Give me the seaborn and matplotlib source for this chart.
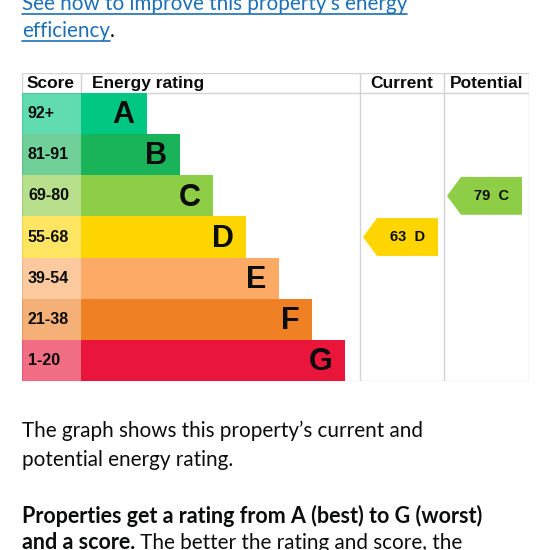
import pandas as pd
import matplotlib.pyplot as plt
import seaborn as sns
from matplotlib.patches import Polygon
from matplotlib.lines import Line2D

# EPC bands, top (best) to bottom (worst)
ratings = ["A", "B", "C", "D", "E", "F", "G"]
score_ranges = ["92+", "81-91", "69-80", "55-68", "39-54", "21-38", "1-20"]
bar_lengths = [2, 3, 4, 5, 6, 7, 8]
band_colors = ["#00c781", "#19b459", "#8dce46", "#ffd500", "#fcaa65", "#ef8023", "#e9153b"]
current_score, current_band = 63, "D"
potential_score, potential_band = 79, "C"

link_lines = ["See how to improve this property\u2019s energy", "efficiency"]
body_lines = ["The graph shows this property\u2019s current and", "potential energy rating."]
bold_line = "Properties get a rating from A (best) to G (worst)"
last_bold, last_rest = "and a score.", " The better the rating and score, the"

df = pd.DataFrame({"rating": ratings, "score": score_ranges,
                   "length": bar_lengths, "full": [1] * len(ratings)})

sns.set_style("white")
plt.rcParams["font.family"] = ["Liberation Sans", "DejaVu Sans"]

W = H = 550
fig = plt.figure(figsize=(5.5, 5.5), dpi=100)


def box(x0, y0, x1, y1):
    return [x0 / W, 1 - y1 / H, (x1 - x0) / W, (y1 - y0) / H]


INK = "#0b0c0c"
GRID = "#d3d3d3"

# table frame, header and dividers
frame = fig.add_axes(box(22, 73, 529, 381))
frame.set_xlim(22, 529)
frame.set_ylim(381, 73)
frame.axis("off")
for x0, y0, x1, y1 in [(22, 73, 529, 73), (22, 381, 529, 381), (22, 93, 529, 93),
                       (22, 73, 22, 381), (529, 73, 529, 381), (81, 73, 81, 93),
                       (360, 73, 360, 381), (444, 73, 444, 381)]:
    frame.plot([x0, x1], [y0, y1], color=GRID, lw=1, solid_capstyle="butt")
hdr = dict(fontsize=12.5, fontweight="bold", color=INK, va="center")
frame.text(27, 83.5, "Score", ha="left", **hdr)
frame.text(92, 83.5, "Energy rating", ha="left", **hdr)
frame.text(402, 83.5, "Current", ha="center", **hdr)
frame.text(487, 83.5, "Potential", ha="center", **hdr)

# score column (lighter tint of each band)
ax_s = fig.add_axes(box(22, 93, 81, 381))
sns.barplot(df, x="full", y="rating", hue="rating", palette=band_colors, alpha=0.62,
            saturation=1, width=1, dodge=False, legend=False, linewidth=0, ax=ax_s,
            orient="h")
ax_s.set_xlim(0, 1)
ax_s.set_ylim(6.5, -0.5)
ax_s.axis("off")
for i, s in enumerate(score_ranges):
    ax_s.text(0.1, i, s, ha="left", va="center", fontsize=11.5, fontweight="bold", color=INK)

# rating bars
ax_b = fig.add_axes(box(81, 93, 360, 381))
sns.barplot(df, x="length", y="rating", hue="rating", palette=band_colors, saturation=1,
            width=1, dodge=False, legend=False, linewidth=0, ax=ax_b, orient="h")
ax_b.set_xlim(0, 279 / 33)
ax_b.set_ylim(6.5, -0.5)
ax_b.axis("off")
for i, (r, n) in enumerate(zip(ratings, bar_lengths)):
    ax_b.text(n - 0.38, i + 0.04, r, ha="right", va="center", fontsize=22,
              fontweight="bold", color=INK)


# current / potential arrows
def arrow(ax, score, band):
    i = ratings.index(band)
    h = 0.46
    pts = [(3, i), (17, i - h), (78, i - h), (78, i + h), (17, i + h)]
    ax.add_patch(Polygon(pts, closed=True, facecolor=band_colors[i], edgecolor="none"))
    ax.text(48, i, f"{score}  {band}", ha="center", va="center", fontsize=10.5,
            fontweight="bold", color=INK)


for (x0, x1), (sc, bd) in zip([(360, 444), (444, 529)],
                              [(current_score, current_band), (potential_score, potential_band)]):
    ax = fig.add_axes(box(x0, 93, x1, 381))
    ax.set_xlim(0, x1 - x0)
    ax.set_ylim(6.5, -0.5)
    ax.axis("off")
    arrow(ax, sc, bd)

# surrounding page text
body_font = ["Lato", "DejaVu Sans"]


def px(x, y):
    return x / W, 1 - y / H


LINK = "#1d70b8"
t1 = fig.text(*px(22, 10), link_lines[0], fontsize=14, color=LINK, family=body_font, va="baseline")
t2 = fig.text(*px(22, 37), link_lines[1], fontsize=14, color=LINK, family=body_font, va="baseline")

b1 = fig.text(*px(22, 437), body_lines[0], fontsize=14, color=INK, family=body_font, va="baseline")
b2 = fig.text(*px(22, 466), body_lines[1], fontsize=14, color=INK, family=body_font, va="baseline")
b3 = fig.text(*px(22, 523), bold_line, fontsize=14, color=INK, family=body_font,
              fontweight="bold", va="baseline")
b4 = fig.text(*px(22, 549), last_bold, fontsize=14, color=INK, family=body_font,
              fontweight="bold", va="baseline")

# fit text widths to the page measure
fig.canvas.draw()
r = fig.canvas.get_renderer()
scale = 401 / b1.get_window_extent(r).width
bscale = 465 / b3.get_window_extent(r).width
for t in (t1, t2, b1, b2):
    t.set_fontsize(14 * scale)
for t in (b3, b4):
    t.set_fontsize(14 * bscale)
fig.canvas.draw()

e4 = b4.get_window_extent(r)
fig.text(e4.x1 / W, 1 - 549 / H, last_rest, fontsize=14 * scale, color=INK,
         family=body_font, va="baseline")
e2 = t2.get_window_extent(r)
fig.text(e2.x1 / W, 1 - 37 / H, ".", fontsize=14 * scale, color=INK,
         family=body_font, va="baseline")
for t, base in ((t1, 10), (t2, 37)):
    e = t.get_window_extent(r)
    yy = 1 - (base + 4) / H
    fig.add_artist(Line2D([e.x0 / W, e.x1 / W], [yy, yy], color=LINK, lw=1.2))

fig.savefig("out.png", dpi=100, facecolor="white")
